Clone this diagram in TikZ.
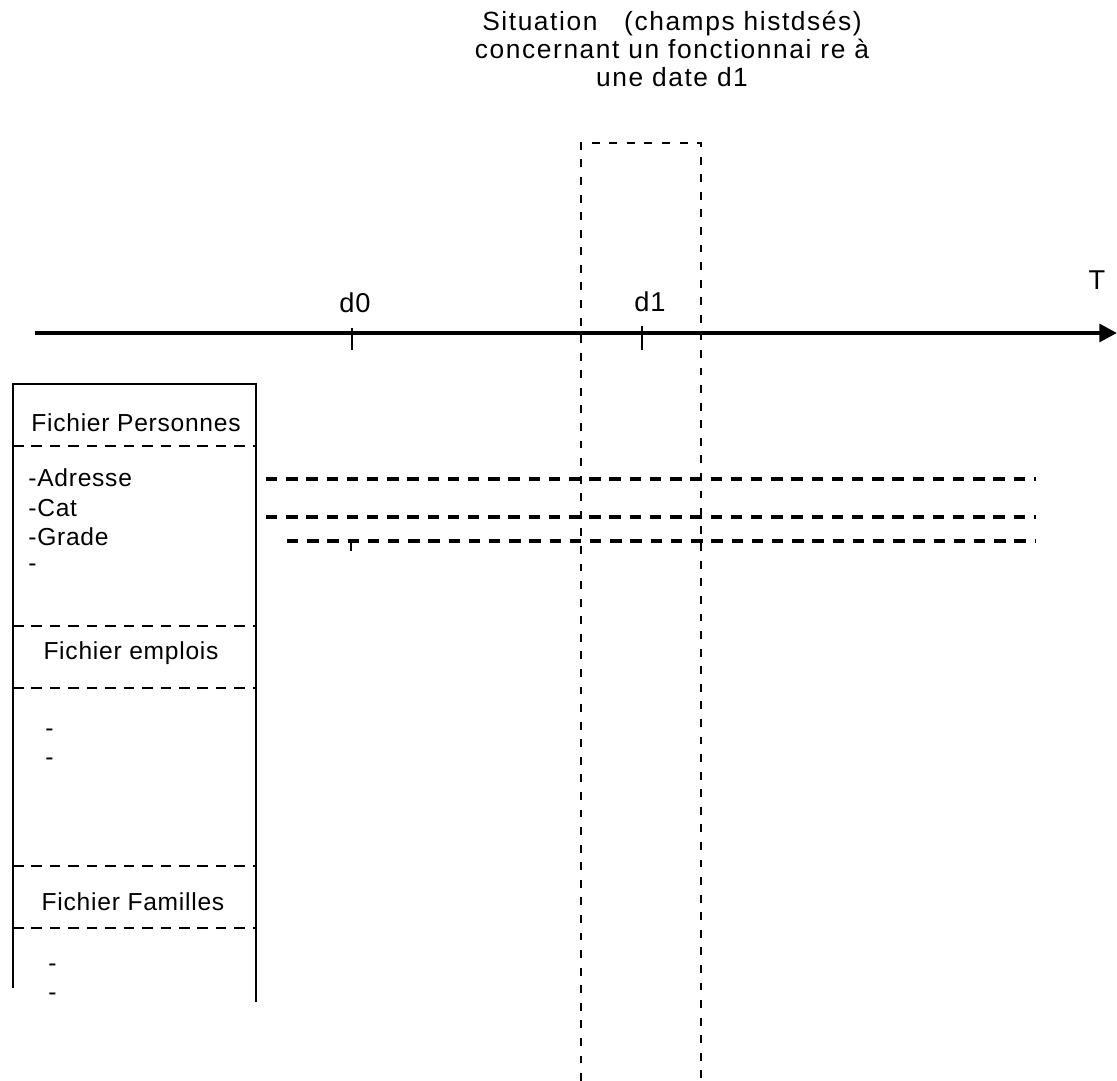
\documentclass[tikz,border=0pt]{standalone}
\usepackage{fontspec}
\setmainfont[LetterSpace=3]{Liberation Sans}
\newfontfamily\widefont[LetterSpace=6]{Liberation Sans}
\usetikzlibrary{arrows.meta}
\begin{document}
\begin{tikzpicture}[
  x=0.02cm, y=-0.02cm,
  axis/.style={line width=2.3pt, -{Triangle[length=10pt, width=10pt]}},
  tick/.style={line width=1.2pt},
  lbl/.style={font=\fontsize{14}{16}\selectfont, inner sep=0pt},
  date/.style={font=\fontsize{15.5}{16}\selectfont, inner sep=0pt},
  field/.style={font=\fontsize{14}{16}\selectfont, anchor=west, inner sep=0pt},
  frame/.style={line width=1.6pt},
  sep/.style={line width=1.7pt, dash pattern=on 6pt off 4.5pt},
  window/.style={line width=1.5pt, dash pattern=on 4.5pt off 5.5pt},
  trace/.style={line width=1.8pt, dash pattern=on 6.5pt off 5pt},
]
\useasboundingbox (0,0) rectangle (1117,1081);
% Title
\node[lbl, font=\fontsize{15}{16}\selectfont\widefont, align=center, anchor=north] (title) at (672,11)
  {Situation\ \ \ (champs histdsés)\\concernant un fonctionnai re à\\une date d1};
% Time axis
\coordinate (t0) at (35,333);
\coordinate (t1) at (1117,333);
\draw[axis] (t0) -- (t1);
\node[date] (T) at (1097,280) {T};
\node[date] (d0) at (355,303) {d0};
\node[date] (d1) at (650,302) {d1};
\draw[tick] (352,328) -- (352,350);
\draw[tick] (642,326) -- (642,350);
% Window around d1
\draw[window] (581,1081) -- (581,143) -- (701,143) -- (701,1081);
% Files
\draw[frame] (13,988) -- (13,384) -- (256,384) -- (256,1002);
\foreach \y in {446,626,688,866,928}
  \draw[sep] (13,\y) -- (256,\y);
\node[lbl] (personnes) at (136,423) {Fichier Personnes};
\node[field] (adresse) at (28,478) {-Adresse};
\node[field] (cat) at (28,508) {-Cat};
\node[field] (grade) at (28,537) {-Grade};
\node[field] (p4) at (28,568) {-};
\node[lbl] (emplois) at (131,653) {Fichier emplois};
\node[field] (e1) at (45,733) {-};
\node[field] (e2) at (45,762) {-};
\node[lbl] (familles) at (133,902) {Fichier Familles};
\node[field] (f1) at (48,968) {-};
\node[field] (f2) at (48,997) {-};
% Histories
\draw[trace] (266,479) -- (1036,479);
\draw[trace] (266,517) -- (1036,517);
\draw[trace] (287,541) -- (1036,541);
\draw[tick] (351,541) -- (351,551);
\end{tikzpicture}
\end{document}
